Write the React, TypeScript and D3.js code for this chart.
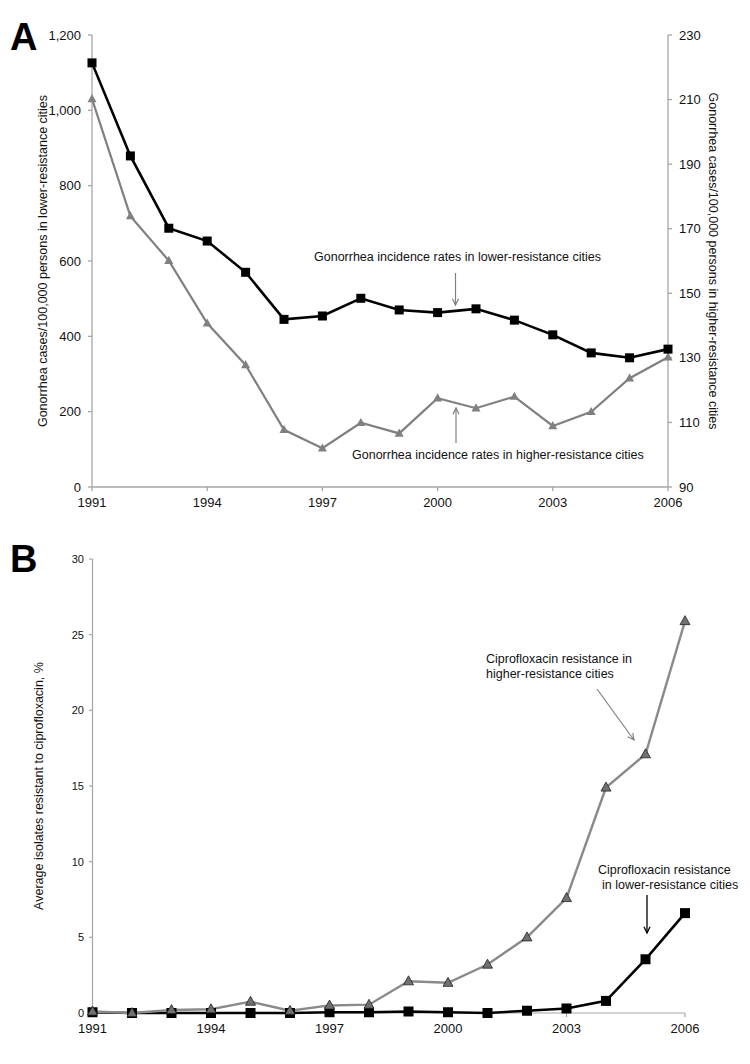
import React from "react";
import * as d3 from "d3";

const years = d3.range(1991, 2007);
const lowerIncidence = [1126, 879, 687, 653, 570, 445, 454, 501, 470, 463, 473, 443, 404, 356, 343, 366];
const higherIncidence = [210.2, 173.9, 160.1, 140.7, 127.8, 107.7, 102, 109.9, 106.6, 117.5, 114.4, 118, 108.9, 113.3, 123.7, 130.2];
const higherCipro = [0.1, 0, 0.2, 0.25, 0.75, 0.15, 0.5, 0.55, 2.1, 2.0, 3.2, 5.0, 7.6, 14.9, 17.1, 25.9];
const lowerCipro = [0.05, 0, 0, 0, 0, 0, 0.05, 0.05, 0.1, 0.05, 0, 0.15, 0.3, 0.8, 3.55, 6.6];
const xTicks = [1991, 1994, 1997, 2000, 2003, 2006];
const leftTicksA = [0, 200, 400, 600, 800, 1000, 1200];
const rightTicksA = [90, 110, 130, 150, 170, 190, 210, 230];
const ticksB = [0, 5, 10, 15, 20, 25, 30];

const FONT = "'Liberation Sans', Arial, sans-serif";
const AXIS = "#a6a6a6";

function tri(cx: number, cy: number, s: number) {
  const h = s * 0.9;
  return `M${cx},${cy - h * 0.6}L${cx + s / 2},${cy + h * 0.4}L${cx - s / 2},${cy + h * 0.4}Z`;
}

function Arrow({ x1, y1, x2, y2, color, w }: any) {
  const ang = Math.atan2(y2 - y1, x2 - x1);
  const L = 7, a = 0.45;
  const p1 = [x2 - L * Math.cos(ang - a), y2 - L * Math.sin(ang - a)];
  const p2 = [x2 - L * Math.cos(ang + a), y2 - L * Math.sin(ang + a)];
  return (
    <g stroke={color} strokeWidth={w} fill="none">
      <line x1={x1} y1={y1} x2={x2} y2={y2} />
      <polyline points={`${p1[0]},${p1[1]} ${x2},${y2} ${p2[0]},${p2[1]}`} />
    </g>
  );
}

export default function App() {
  // Panel A scales
  const xA = d3.scaleLinear().domain([1991, 2006]).range([92, 668]);
  const yL = d3.scaleLinear().domain([0, 1200]).range([487, 35]);
  const yR = d3.scaleLinear().domain([90, 230]).range([487, 35]);
  // Panel B scales
  const xB = d3.scaleLinear().domain([1991, 2006]).range([92.5, 685]);
  const yB = d3.scaleLinear().domain([0, 30]).range([1013, 559]);

  const lineLowA = d3.line<number>().x((_, i) => xA(years[i])).y((d) => yL(d));
  const lineHighA = d3.line<number>().x((_, i) => xA(years[i])).y((d) => yR(d));
  const lineB = d3.line<number>().x((_, i) => xB(years[i])).y((d) => yB(d));

  return (
    <svg width={750} height={1064} style={{ position: "absolute", left: 0, top: 0, background: "#fff" }} fontFamily={FONT}>
      <rect width={750} height={1064} fill="#fff" />
      {/* ===== Panel A ===== */}
      <text x={10} y={50} fontSize={38} fontWeight="bold" fontFamily="'Liberation Sans', Arial, sans-serif">A</text>
      {/* left axis */}
      <line x1={92} y1={yL(1200)} x2={92} y2={yL(0)} stroke={AXIS} strokeWidth={1.3} />
      {leftTicksA.map((t) => (
        <g key={"l" + t}>
          <line x1={88} x2={92} y1={yL(t)} y2={yL(t)} stroke={AXIS} strokeWidth={1.3} />
          <text x={81} y={yL(t) + 4.5} fontSize={13} textAnchor="end" fill="#111">{d3.format(",")(t)}</text>
        </g>
      ))}
      {/* right axis */}
      <line x1={668} y1={yR(230)} x2={668} y2={yR(90)} stroke={AXIS} strokeWidth={1.3} />
      {rightTicksA.map((t) => (
        <g key={"r" + t}>
          <line x1={668} x2={672} y1={yR(t)} y2={yR(t)} stroke={AXIS} strokeWidth={1.3} />
          <text x={679} y={yR(t) + 4.5} fontSize={13} fill="#111">{t}</text>
        </g>
      ))}
      {/* x axis A */}
      <line x1={92} y1={487} x2={668} y2={487} stroke={AXIS} strokeWidth={1.3} />
      {xTicks.map((t) => (
        <g key={"xa" + t}>
          <line x1={xA(t)} x2={xA(t)} y1={487} y2={491} stroke={AXIS} strokeWidth={1.3} />
          <text x={xA(t)} y={507} fontSize={13} textAnchor="middle" fill="#111">{t}</text>
        </g>
      ))}
      <text transform={`translate(47,${yL(600)}) rotate(-90)`} fontSize={12.5} textAnchor="middle" fill="#111">
        Gonorrhea cases/100,000 persons in lower-resistance cities
      </text>
      <text transform={`translate(709,${yL(600)}) rotate(90)`} fontSize={12.5} textAnchor="middle" fill="#111">
        Gonorrhea cases/100,000 persons in higher-resistance cities
      </text>
      {/* series A */}
      <path d={lineHighA(higherIncidence) || ""} fill="none" stroke="#808080" strokeWidth={2.2} />
      {higherIncidence.map((v, i) => (
        <path key={"ha" + i} d={tri(xA(years[i]), yR(v), 9)} fill="#808080" />
      ))}
      <path d={lineLowA(lowerIncidence) || ""} fill="none" stroke="#000" strokeWidth={2.6} />
      {lowerIncidence.map((v, i) => (
        <rect key={"la" + i} x={xA(years[i]) - 4.5} y={yL(v) - 4.5} width={9} height={9} fill="#000" />
      ))}
      {/* annotations A */}
      <text x={314} y={261} fontSize={12.5} fill="#111">Gonorrhea incidence rates in lower-resistance cities</text>
      <Arrow x1={455.5} y1={273} x2={455.5} y2={305} color="#808080" w={1.2} />
      <text x={352} y={459} fontSize={12.5} fill="#111">Gonorrhea incidence rates in higher-resistance cities</text>
      <Arrow x1={456} y1={443} x2={456} y2={408} color="#808080" w={1.2} />

      {/* ===== Panel B ===== */}
      <text x={10} y={572} fontSize={38} fontWeight="bold">B</text>
      <line x1={92.5} y1={yB(30)} x2={92.5} y2={yB(0)} stroke={AXIS} strokeWidth={1.2} />
      {ticksB.map((t) => (
        <g key={"b" + t}>
          <line x1={89} x2={92.5} y1={yB(t)} y2={yB(t)} stroke={AXIS} strokeWidth={1.2} />
          <text x={84} y={yB(t) + 4} fontSize={11} textAnchor="end" fill="#111">{t}</text>
        </g>
      ))}
      <line x1={92.5} y1={1013} x2={685} y2={1013} stroke={AXIS} strokeWidth={1.2} />
      {xTicks.map((t) => (
        <g key={"xb" + t}>
          <line x1={xB(t)} x2={xB(t)} y1={1013} y2={1017} stroke={AXIS} strokeWidth={1.2} />
          <text x={xB(t)} y={1033} fontSize={13} textAnchor="middle" fill="#111">{t}</text>
        </g>
      ))}
      <text transform={`translate(43,${yB(15)}) rotate(-90)`} fontSize={12.5} textAnchor="middle" fill="#111">
        Average isolates resistant to ciprofloxacin, %
      </text>
      {/* series B */}
      <path d={lineB(lowerCipro) || ""} fill="none" stroke="#000" strokeWidth={2.6} />
      <path d={lineB(higherCipro) || ""} fill="none" stroke="#8a8a8a" strokeWidth={2.4} />
      {lowerCipro.map((v, i) => (
        <rect key={"lb" + i} x={xB(years[i]) - 5} y={yB(v) - 5} width={10} height={10} fill="#000" />
      ))}
      {higherCipro.map((v, i) => (
        <path key={"hb" + i} d={tri(xB(years[i]), yB(v), 10)} fill="#707070" stroke="#222" strokeWidth={0.8} />
      ))}
      {/* annotations B */}
      <text x={486} y={663} fontSize={12.5} fill="#111">Ciprofloxacin resistance in</text>
      <text x={486} y={678} fontSize={12.5} fill="#111">higher-resistance cities</text>
      <Arrow x1={597} y1={689} x2={634} y2={740} color="#808080" w={1.2} />
      <text x={598} y={874} fontSize={12.5} fill="#111">Ciprofloxacin resistance</text>
      <text x={602} y={889} fontSize={12.5} fill="#111">in lower-resistance cities</text>
      <Arrow x1={647} y1={895} x2={647} y2={933} color="#000" w={1.3} />
    </svg>
  );
}
